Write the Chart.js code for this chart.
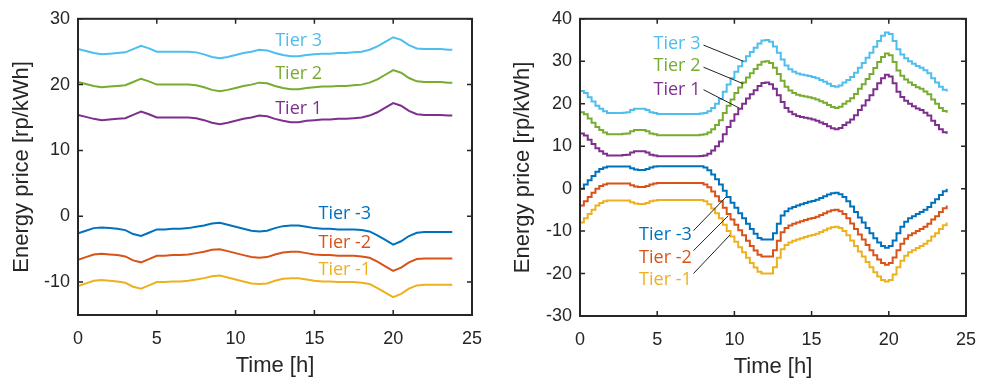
<!DOCTYPE html>
<html>
<head>
<meta charset="utf-8">
<script src="https://cdn.jsdelivr.net/npm/chart.js@4/dist/chart.umd.min.js"></script>
<style>
    html, body { margin: 0; padding: 0; background: #fff; }
    .wrap { display: flex; width: 989px; height: 383px; }
    canvas { display: block; }
</style>
</head>
<body>
<div class="wrap">
    <canvas id="leftChart" width="495" height="383"></canvas>
    <canvas id="rightChart" width="494" height="383"></canvas>
</div>
<script>
// Время (часы)
const leftHours = Array.from({ length: 48 }, (_, i) => i * 0.5).concat([23.75]);
const rightHours = Array.from({ length: 96 }, (_, i) => i * 0.25);

// Левый график: цены по уровням
const leftTier3 = [25.4, 25.1, 24.8, 24.6, 24.7, 24.8, 24.9, 25.4, 25.9, 25.5, 25.0, 25.0, 25.0, 25.0, 25.0, 24.9, 24.6, 24.2, 24.0, 24.2,
    24.5, 24.8, 25.0, 25.3, 25.2, 24.8, 24.5, 24.3, 24.3, 24.5, 24.6, 24.7, 24.7, 24.8, 24.8, 24.9, 25.0, 25.3, 25.8, 26.5,
    27.2, 26.8, 26.0, 25.5, 25.4, 25.4, 25.4, 25.3, 25.3];
const leftTier2 = [20.4, 20.1, 19.8, 19.6, 19.7, 19.8, 19.9, 20.4, 20.9, 20.5, 20.0, 20.0, 20.0, 20.0, 20.0, 19.9, 19.6, 19.2, 19.0, 19.2,
    19.5, 19.8, 20.0, 20.3, 20.2, 19.8, 19.5, 19.3, 19.3, 19.5, 19.6, 19.7, 19.7, 19.8, 19.8, 19.9, 20.0, 20.3, 20.8, 21.5,
    22.2, 21.8, 21.0, 20.5, 20.4, 20.4, 20.4, 20.3, 20.3];
const leftTier1 = [15.4, 15.1, 14.8, 14.6, 14.7, 14.8, 14.9, 15.4, 15.9, 15.5, 15.0, 15.0, 15.0, 15.0, 15.0, 14.9, 14.6, 14.2, 14.0, 14.2,
    14.5, 14.8, 15.0, 15.3, 15.2, 14.8, 14.5, 14.3, 14.3, 14.5, 14.6, 14.7, 14.7, 14.8, 14.8, 14.9, 15.0, 15.3, 15.8, 16.5,
    17.2, 16.8, 16.0, 15.5, 15.4, 15.4, 15.4, 15.3, 15.3];
const leftTierM3 = [-2.6, -2.2, -1.8, -1.7, -1.8, -1.9, -2.1, -2.7, -3.0, -2.5, -2.0, -2.0, -1.9, -1.9, -1.8, -1.6, -1.4, -1.1, -1.0, -1.3,
    -1.6, -1.9, -2.2, -2.3, -2.2, -1.8, -1.5, -1.4, -1.4, -1.6, -1.8, -1.9, -1.9, -2.0, -2.0, -2.0, -2.1, -2.3, -2.9, -3.6,
    -4.3, -3.8, -3.0, -2.5, -2.4, -2.4, -2.4, -2.4, -2.4];
const leftTierM2 = [-6.6, -6.2, -5.8, -5.7, -5.8, -5.9, -6.1, -6.7, -7.0, -6.5, -6.0, -6.0, -5.9, -5.9, -5.8, -5.6, -5.4, -5.1, -5.0, -5.3,
    -5.6, -5.9, -6.2, -6.3, -6.2, -5.8, -5.5, -5.4, -5.4, -5.6, -5.8, -5.9, -5.9, -6.0, -6.0, -6.0, -6.1, -6.3, -6.9, -7.6,
    -8.3, -7.8, -7.0, -6.5, -6.4, -6.4, -6.4, -6.4, -6.4];
const leftTierM1 = [-10.6, -10.2, -9.8, -9.7, -9.8, -9.9, -10.1, -10.7, -11.0, -10.5, -10.0, -10.0, -9.9, -9.9, -9.8, -9.6, -9.4, -9.1, -9.0, -9.3,
    -9.6, -9.9, -10.2, -10.3, -10.2, -9.8, -9.5, -9.4, -9.4, -9.6, -9.8, -9.9, -9.9, -10.0, -10.0, -10.0, -10.1, -10.3, -10.9, -11.6,
    -12.3, -11.8, -11.0, -10.5, -10.4, -10.4, -10.4, -10.4, -10.4];

// Правый график: ступенчатые цены (шаг 15 минут)
const rightTier3 = [
    23.0, 22.5, 21.5, 20.5, 19.5, 18.8, 18.2, 17.8, 17.8, 17.8, 17.8, 17.9, 18.0, 18.5, 18.8, 18.8,
    18.8, 18.5, 18.0, 17.8, 17.6, 17.6, 17.6, 17.6, 17.6, 17.6, 17.6, 17.6, 17.6, 17.6, 17.6, 17.7,
    17.8, 18.2, 19.0, 20.0, 21.1, 22.8, 24.5, 26.0, 27.5, 28.8, 30.0, 31.2, 32.2, 33.2, 34.2, 34.9,
    35.0, 34.6, 33.5, 32.0, 30.4, 29.0, 28.1, 27.5, 27.1, 26.9, 26.7, 26.5, 26.3, 26.0, 25.6, 25.2,
    24.7, 24.2, 24.0, 24.3, 25.0, 25.6, 26.3, 27.3, 28.5, 29.6, 30.8, 32.0, 33.4, 34.8, 36.0, 36.8,
    36.4, 34.8, 32.8, 31.6, 30.7, 30.0, 29.4, 28.9, 28.5, 27.9, 27.2, 26.0, 25.0, 24.0, 23.3, 22.9];
const rightTier2 = [
    18.0, 17.5, 16.5, 15.5, 14.5, 13.8, 13.2, 12.8, 12.8, 12.8, 12.8, 12.9, 13.0, 13.5, 13.8, 13.8,
    13.8, 13.5, 13.0, 12.8, 12.6, 12.6, 12.6, 12.6, 12.6, 12.6, 12.6, 12.6, 12.6, 12.6, 12.6, 12.7,
    12.8, 13.2, 14.0, 15.0, 16.1, 17.8, 19.5, 21.0, 22.5, 23.8, 25.0, 26.2, 27.2, 28.2, 29.2, 29.9,
    30.0, 29.6, 28.5, 27.0, 25.4, 24.0, 23.1, 22.5, 22.1, 21.9, 21.7, 21.5, 21.3, 21.0, 20.6, 20.2,
    19.7, 19.2, 19.0, 19.3, 20.0, 20.6, 21.3, 22.3, 23.5, 24.6, 25.8, 27.0, 28.4, 29.8, 31.0, 31.8,
    31.4, 29.8, 27.8, 26.6, 25.7, 25.0, 24.4, 23.9, 23.5, 22.9, 22.2, 21.0, 20.0, 19.0, 18.3, 17.9];
const rightTier1 = [
    13.0, 12.5, 11.5, 10.5, 9.5, 8.8, 8.2, 7.8, 7.8, 7.8, 7.8, 7.9, 8.0, 8.5, 8.8, 8.8,
    8.8, 8.5, 8.0, 7.8, 7.6, 7.6, 7.6, 7.6, 7.6, 7.6, 7.6, 7.6, 7.6, 7.6, 7.6, 7.7,
    7.8, 8.2, 9.0, 10.0, 11.1, 12.8, 14.5, 16.0, 17.5, 18.8, 20.0, 21.2, 22.2, 23.2, 24.2, 24.9,
    25.0, 24.6, 23.5, 22.0, 20.4, 19.0, 18.1, 17.5, 17.1, 16.9, 16.7, 16.5, 16.3, 16.0, 15.6, 15.2,
    14.7, 14.2, 14.0, 14.3, 15.0, 15.6, 16.3, 17.3, 18.5, 19.6, 20.8, 22.0, 23.4, 24.8, 26.0, 26.8,
    26.4, 24.8, 22.8, 21.6, 20.7, 20.0, 19.4, 18.9, 18.5, 17.9, 17.2, 16.0, 15.0, 14.0, 13.3, 12.9];
const rightTierM3 = [
    0.0, 1.0, 2.0, 3.0, 4.0, 4.6, 5.0, 5.2, 5.2, 5.2, 5.2, 5.2, 5.2, 4.8, 4.5, 4.4,
    4.4, 4.6, 5.0, 5.2, 5.3, 5.3, 5.3, 5.3, 5.3, 5.3, 5.3, 5.3, 5.3, 5.3, 5.3, 5.3,
    5.0, 4.3, 3.3, 2.2, 1.0, -0.5, -2.0, -3.3, -4.5, -5.8, -7.0, -8.3, -9.5, -10.6, -11.6, -12.0,
    -12.0, -12.0, -10.5, -8.3, -6.3, -5.3, -4.7, -4.3, -4.0, -3.7, -3.4, -3.1, -2.9, -2.6, -2.2, -1.8,
    -1.4, -1.1, -1.0, -1.3, -2.0, -3.0, -4.2, -5.5, -6.8, -8.0, -9.3, -10.5, -11.7, -12.7, -13.5, -13.9,
    -13.5, -12.2, -10.5, -9.0, -7.8, -7.0, -6.5, -6.0, -5.5, -5.0, -4.3, -3.3, -2.5, -1.5, -0.6, 0.0];
const rightTierM2 = [
    -4.0, -3.0, -2.0, -1.0, 0.0, 0.6, 1.0, 1.2, 1.2, 1.2, 1.2, 1.2, 1.2, 0.8, 0.5, 0.4,
    0.4, 0.6, 1.0, 1.2, 1.3, 1.3, 1.3, 1.3, 1.3, 1.3, 1.3, 1.3, 1.3, 1.3, 1.3, 1.3,
    1.0, 0.3, -0.7, -1.8, -3.0, -4.5, -6.0, -7.3, -8.5, -9.8, -11.0, -12.3, -13.5, -14.6, -15.6, -16.0,
    -16.0, -16.0, -14.5, -12.3, -10.3, -9.3, -8.7, -8.3, -8.0, -7.7, -7.4, -7.1, -6.9, -6.6, -6.2, -5.8,
    -5.4, -5.1, -5.0, -5.3, -6.0, -7.0, -8.2, -9.5, -10.8, -12.0, -13.3, -14.5, -15.7, -16.7, -17.5, -17.9,
    -17.5, -16.2, -14.5, -13.0, -11.8, -11.0, -10.5, -10.0, -9.5, -9.0, -8.3, -7.3, -6.5, -5.5, -4.6, -4.0];
const rightTierM1 = [
    -8.0, -7.0, -6.0, -5.0, -4.0, -3.4, -3.0, -2.8, -2.8, -2.8, -2.8, -2.8, -2.8, -3.2, -3.5, -3.6,
    -3.6, -3.4, -3.0, -2.8, -2.7, -2.7, -2.7, -2.7, -2.7, -2.7, -2.7, -2.7, -2.7, -2.7, -2.7, -2.7,
    -3.0, -3.7, -4.7, -5.8, -7.0, -8.5, -10.0, -11.3, -12.5, -13.8, -15.0, -16.3, -17.5, -18.6, -19.6, -20.0,
    -20.0, -20.0, -18.5, -16.3, -14.3, -13.3, -12.7, -12.3, -12.0, -11.7, -11.4, -11.1, -10.9, -10.6, -10.2, -9.8,
    -9.4, -9.1, -9.0, -9.3, -10.0, -11.0, -12.2, -13.5, -14.8, -16.0, -17.3, -18.5, -19.7, -20.7, -21.5, -21.9,
    -21.5, -20.2, -18.5, -17.0, -15.8, -15.0, -14.5, -14.0, -13.5, -13.0, -12.3, -11.3, -10.5, -9.5, -8.6, -8.0];

// Цвета уровней (как в MATLAB)
const colors = {
    'Tier 3': '#4DBEEE', 'Tier 2': '#77AC30', 'Tier 1': '#7E2F8E',
    'Tier -3': '#0072BD', 'Tier -2': '#D95319', 'Tier -1': '#EDB120'
};

const tickColor = '#262626';
const tickFont = { family: '"Liberation Sans", Arial, sans-serif', size: 18 };

function makeDataset(label, hours, values, stepped) {
    return {
        label: label,
        data: hours.map((h, i) => ({ x: h, y: values[i] })),
        borderColor: colors[label],
        borderWidth: 2,
        pointRadius: 0,
        stepped: stepped,
        tension: 0,
        fill: false
    };
}

// Рамка, засечки внутрь, подписи уровней и заголовки осей
const framePlugin = {
    id: 'frame',
    afterDatasetsDraw(chart, args, opts) {
        const { ctx, chartArea: a, scales: { x, y } } = chart;
        ctx.save();
        ctx.strokeStyle = tickColor;
        ctx.lineWidth = 1.5;
        ctx.beginPath();
        x.ticks.forEach(t => {
            const px = x.getPixelForValue(t.value);
            ctx.moveTo(px, a.bottom); ctx.lineTo(px, a.bottom - 5);
            ctx.moveTo(px, a.top); ctx.lineTo(px, a.top + 5);
        });
        y.ticks.forEach(t => {
            const py = y.getPixelForValue(t.value);
            ctx.moveTo(a.left, py); ctx.lineTo(a.left + 5, py);
            ctx.moveTo(a.right, py); ctx.lineTo(a.right - 5, py);
        });
        ctx.stroke();
        ctx.lineWidth = 2;
        ctx.strokeRect(a.left, a.top, a.right - a.left, a.bottom - a.top);

        // подписи уровней
        ctx.font = '18px "Open Sans", sans-serif';
        ctx.textBaseline = 'middle';
        opts.labels.forEach(l => {
            ctx.fillStyle = colors[l.text];
            ctx.textAlign = l.align;
            ctx.fillText(l.text, x.getPixelForValue(l.x), y.getPixelForValue(l.y));
            if (l.leader) {
                ctx.strokeStyle = '#222';
                ctx.lineWidth = 1;
                ctx.beginPath();
                ctx.moveTo(x.getPixelForValue(l.leader[0]), y.getPixelForValue(l.leader[1]));
                ctx.lineTo(x.getPixelForValue(l.leader[2]), y.getPixelForValue(l.leader[3]));
                ctx.stroke();
            }
        });

        // заголовки осей
        ctx.fillStyle = tickColor;
        ctx.font = '22px "Liberation Sans", Arial, sans-serif';
        ctx.textAlign = 'center';
        ctx.fillText('Time [h]', (a.left + a.right) / 2, opts.xTitleY);
        ctx.translate(opts.yTitleX, (a.top + a.bottom) / 2);
        ctx.rotate(-Math.PI / 2);
        ctx.fillText('Energy price [rp/kWh]', 0, 0);
        ctx.restore();
    }
};

function buildChart(id, cfg) {
    return new Chart(document.getElementById(id), {
        type: 'line',
        data: { datasets: cfg.datasets },
        options: {
            responsive: false,
            animation: false,
            devicePixelRatio: 1,
            layout: { padding: { top: 16, right: cfg.padRight, left: 0, bottom: 0 } },
            scales: {
                x: {
                    type: 'linear',
                    min: 0, max: 25,
                    grid: { display: false, drawTicks: false },
                    border: { display: false },
                    ticks: { stepSize: 5, color: tickColor, font: tickFont, padding: 13, maxRotation: 0 },
                    afterFit: s => { s.height = cfg.xHeight; }
                },
                y: {
                    min: cfg.yMin, max: cfg.yMax,
                    grid: { display: false, drawTicks: false },
                    border: { display: false },
                    ticks: { stepSize: 10, color: tickColor, font: tickFont, padding: 8 },
                    afterBuildTicks: s => { s.ticks = s.ticks.filter(t => t.value % 10 === 0); },
                    afterFit: s => { s.width = cfg.yWidth; }
                }
            },
            plugins: {
                legend: { display: false },
                tooltip: { enabled: false },
                frame: cfg.frame
            }
        },
        plugins: [framePlugin]
    });
}

buildChart('leftChart', {
    yMin: -15, yMax: 30, yWidth: 78, xHeight: 68, padRight: 19,
    datasets: [
        makeDataset('Tier 3', leftHours, leftTier3, false),
        makeDataset('Tier 2', leftHours, leftTier2, false),
        makeDataset('Tier 1', leftHours, leftTier1, false),
        makeDataset('Tier -3', leftHours, leftTierM3, false),
        makeDataset('Tier -2', leftHours, leftTierM2, false),
        makeDataset('Tier -1', leftHours, leftTierM1, false)
    ],
    frame: {
        xTitleY: 366, yTitleX: 22,
        labels: [
            { text: 'Tier 3', x: 14.0, y: 26.6, align: 'center' },
            { text: 'Tier 2', x: 14.0, y: 21.6, align: 'center' },
            { text: 'Tier 1', x: 14.0, y: 16.25, align: 'center' },
            { text: 'Tier -3', x: 16.93, y: 0.3, align: 'center' },
            { text: 'Tier -2', x: 16.93, y: -4.06, align: 'center' },
            { text: 'Tier -1', x: 16.93, y: -8.2, align: 'center' }
        ]
    }
});

buildChart('rightChart', {
    yMin: -30, yMax: 40, yWidth: 85, xHeight: 67, padRight: 12,
    datasets: [
        makeDataset('Tier 3', rightHours, rightTier3, true),
        makeDataset('Tier 2', rightHours, rightTier2, true),
        makeDataset('Tier 1', rightHours, rightTier1, true),
        makeDataset('Tier -3', rightHours, rightTierM3, true),
        makeDataset('Tier -2', rightHours, rightTierM2, true),
        makeDataset('Tier -1', rightHours, rightTierM1, true)
    ],
    frame: {
        xTitleY: 367, yTitleX: 28,
        labels: [
            { text: 'Tier 3', x: 7.8, y: 34.0, align: 'right', leader: [8.0, 33.8, 10.58, 30.0] },
            { text: 'Tier 2', x: 7.8, y: 28.8, align: 'right', leader: [8.0, 28.6, 10.58, 24.7] },
            { text: 'Tier 1', x: 7.8, y: 23.3, align: 'right', leader: [8.0, 23.3, 10.3, 19.0] },
            { text: 'Tier -3', x: 7.24, y: -10.9, align: 'right', leader: [7.35, -9.9, 9.45, -2.0] },
            { text: 'Tier -2', x: 7.24, y: -16.2, align: 'right', leader: [7.35, -14.6, 9.6, -6.4] },
            { text: 'Tier -1', x: 7.24, y: -21.6, align: 'right', leader: [7.35, -20.0, 9.72, -10.9] }
        ]
    }
});
</script>
</body>
</html>
